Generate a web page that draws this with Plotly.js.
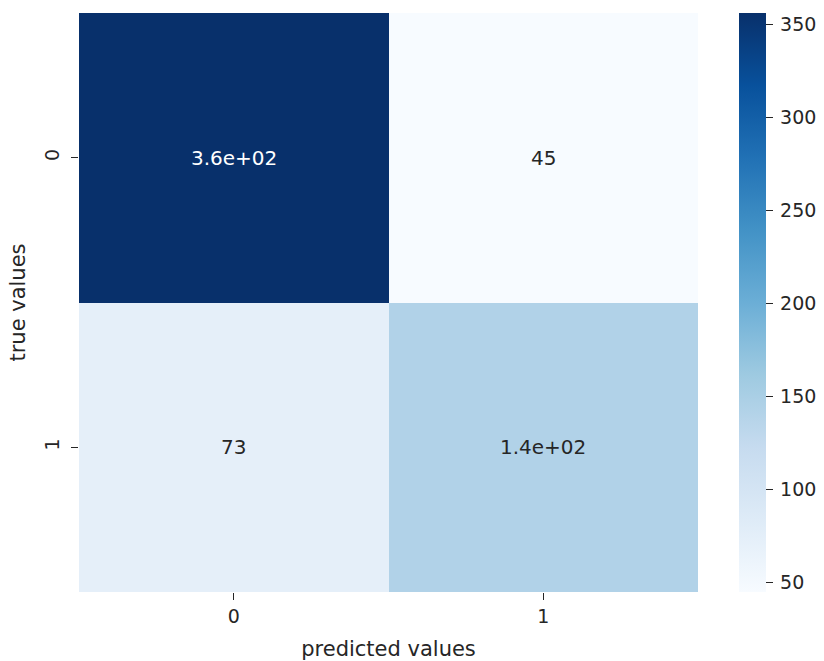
<!DOCTYPE html>
<html>
<head>
<meta charset="utf-8">
<script src="https://cdn.plot.ly/plotly-3.0.1.min.js"></script>
<style>
  html, body { margin: 0; padding: 0; background: #fff; }
  #chart { width: 824px; height: 661px; }
</style>
</head>
<body>
<div id="chart"></div>
<script>
// Confusion matrix counts (rows: true class, columns: predicted class)
const predictedLabels = ['0', '1'];
const trueLabels = ['0', '1'];
const row0 = [356, 45];
const row1 = [73, 143];
const colorbarTicks = [50, 100, 150, 200, 250, 300, 350];

const z = [row0, row1];

// matplotlib "Blues" colormap
const blues = [
  [0.0, '#f7fbff'], [0.125, '#deebf7'], [0.25, '#c6dbef'], [0.375, '#9ecae1'],
  [0.5, '#6baed6'], [0.625, '#4292c6'], [0.75, '#2171b5'], [0.875, '#08519c'],
  [1.0, '#08306b']
];

// Python-style ".2g" formatting (e.g. 356 -> "3.6e+02")
function fmt2g(v) {
  const exp = Math.floor(Math.log10(Math.abs(v)));
  if (exp < -4 || exp >= 2) {
    const s = v.toExponential(1);
    const [m, e] = s.split('e');
    const sign = e[0] === '-' ? '-' : '+';
    let digits = e.replace(/[+-]/, '');
    if (digits.length < 2) digits = '0' + digits;
    return m + 'e' + sign + digits;
  }
  return String(Number(v.toPrecision(2)));
}

const FONT = 'DejaVu Sans';
const INK = '#262626';

const PLOT_L = 79, PLOT_R = 698;

const flat = z.flat();
const zmin = Math.min(...flat);
const zmax = Math.max(...flat);

const annotations = [];
z.forEach((row, i) => {
  row.forEach((v, j) => {
    const frac = (v - zmin) / (zmax - zmin);
    annotations.push({
      x: predictedLabels[j], y: trueLabels[i], xref: 'x', yref: 'y',
      text: fmt2g(v), showarrow: false,
      font: { family: FONT, size: 20, color: frac > 0.55 ? '#ffffff' : INK }
    });
  });
});

const trace = {
  type: 'heatmap',
  x: predictedLabels,
  y: trueLabels,
  z: z,
  zmin: zmin,
  zmax: zmax,
  colorscale: blues,
  xgap: 0, ygap: 0,
  hoverinfo: 'skip',
  colorbar: {
    x: (739 - PLOT_L) / (PLOT_R - PLOT_L), xanchor: 'left', xref: 'paper',
    y: 0.5, yanchor: 'middle', len: 1, lenmode: 'fraction',
    thickness: 27, thicknessmode: 'pixels',
    outlinewidth: 0, xpad: 0, ypad: 0,
    tickvals: colorbarTicks, ticktext: colorbarTicks.map(t => '\u2009' + t),
    ticks: 'outside', ticklen: 7, tickwidth: 1, tickcolor: INK,
    tickfont: { family: FONT, size: 19, color: INK }
  }
};

const layout = {
  width: 824, height: 661,
  margin: { l: PLOT_L, r: 824 - PLOT_R, t: 13, b: 69, pad: 0, autoexpand: false },
  paper_bgcolor: '#ffffff', plot_bgcolor: '#ffffff',
  font: { family: FONT, color: INK },
  xaxis: {
    type: 'category', showgrid: false, zeroline: false, showline: false,
    ticks: 'outside', ticklen: 7, tickwidth: 1, tickcolor: INK,
    tickfont: { family: FONT, size: 19, color: INK },
    title: { text: 'predicted values', font: { family: FONT, size: 21, color: INK }, standoff: 15 }
  },
  yaxis: {
    type: 'category', autorange: 'reversed', showgrid: false, zeroline: false, showline: false,
    ticks: 'outside', ticklen: 7, tickwidth: 1, tickcolor: INK, tickangle: -90,
    ticklabelstandoff: 4,
    tickfont: { family: FONT, size: 19, color: INK },
    title: { text: 'true values', font: { family: FONT, size: 21, color: INK }, standoff: 10 }
  },
  annotations: annotations
};

Plotly.newPlot('chart', [trace], layout, { displayModeBar: false, staticPlot: true });
</script>
</body>
</html>
